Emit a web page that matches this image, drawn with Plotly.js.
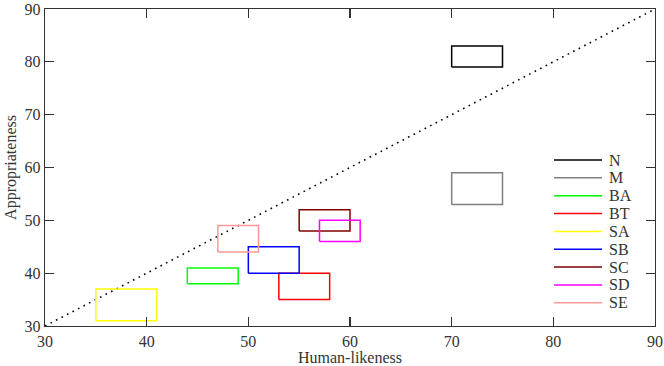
<!DOCTYPE html>
<html>
<head>
<meta charset="utf-8">
<script src="https://cdn.plot.ly/plotly-3.0.1.min.js"></script>
<style>html,body{margin:0;padding:0;background:#fff;}#chart{width:664px;height:366px;}</style>
</head>
<body>
<div id="chart"></div>
<script>
// Data
const systems = ["N", "M", "BA", "BT", "SA", "SB", "SC", "SD", "SE"];
const humanLow  = [70, 70, 44, 53, 35, 50, 55, 57, 47];
const humanHigh = [75, 75, 49, 58, 41, 55, 60, 61, 51];
const apprLow   = [79, 53, 38, 35, 31, 40, 48, 46, 44];
const apprHigh  = [83, 59, 41, 40, 37, 45, 52, 50, 49];
const diagonal  = [30, 90];
const ticks     = [30, 40, 50, 60, 70, 80, 90];

const colors = ["#000000", "#808080", "#00ff00", "#ff0000", "#ffff00", "#0000ff", "#800000", "#ff00ff", "#ff9999"];

const traces = [];
traces.push({
  x: diagonal, y: diagonal, mode: "lines", showlegend: false, hoverinfo: "skip",
  line: {color: "#000", width: 1.6, dash: "1.6px,4.6px"}
});
systems.forEach((s, i) => {
  traces.push({
    name: s, showlegend: false,
    x: [humanLow[i], humanHigh[i], humanHigh[i], humanLow[i], humanLow[i]],
    y: [apprLow[i], apprLow[i], apprHigh[i], apprHigh[i], apprLow[i]],
    mode: "lines",
    line: {color: colors[i], width: 1.5}
  });
});

const fam = "Liberation Serif, DejaVu Serif, serif";
const font = {family: fam, size: 16, color: "#333"};
const axisCommon = {
  range: [30, 90], tickvals: ticks, ticks: "inside", ticklen: 9, tickwidth: 1.3,
  tickcolor: "#333", showline: true, linecolor: "#333", linewidth: 1.3,
  mirror: "ticks", showgrid: false, zeroline: false, tickfont: font,
  ticklabeloverflow: "allow"
};

// Legend built from the series arrays (paper coordinates)
const plotTop = 9, plotBottom = 326;
const W = 610, H = plotBottom - plotTop; // plot area size in px
const legX0 = (554 - 45) / W, legX1 = (602 - 45) / W, legTX = (607 - 45) / W;
const legTop = (plotBottom - 160) / H, legStep = 17.85 / H;
const shapes = [], annotations = [];
systems.forEach((s, i) => {
  const y = legTop - i * legStep;
  shapes.push({type: "line", xref: "paper", yref: "paper", x0: legX0, x1: legX1, y0: y, y1: y,
               line: {color: colors[i], width: 1.5}});
  annotations.push({xref: "paper", yref: "paper", x: legTX, y: y, xanchor: "left", yanchor: "middle",
                    text: s, showarrow: false, font: {family: fam, size: 16, color: "#333"}});
});

const layout = {
  width: 664, height: 366,
  margin: {l: 45, r: 9, t: plotTop, b: 366 - plotBottom},
  paper_bgcolor: "#fff", plot_bgcolor: "#fff",
  font: font,
  xaxis: Object.assign({}, axisCommon, {title: {text: "Human-likeness", font: {family: fam, size: 16, color: "#333"}, standoff: 5}}),
  yaxis: Object.assign({}, axisCommon, {title: {text: "Appropriateness", font: {family: fam, size: 16, color: "#333"}, standoff: 4}}),
  shapes: shapes, annotations: annotations,
  showlegend: false
};

Plotly.newPlot("chart", traces, layout, {displayModeBar: false, staticPlot: true});
</script>
</body>
</html>
